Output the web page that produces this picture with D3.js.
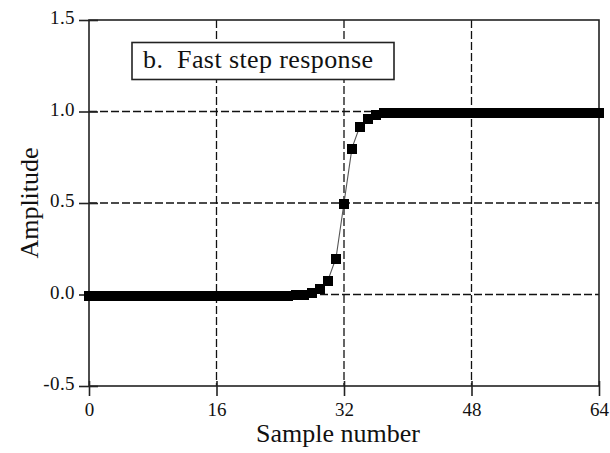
<!DOCTYPE html>
<html>
<head>
<meta charset="utf-8">
<script src="https://cdn.jsdelivr.net/npm/d3@7"></script>
</head>
<body style="margin:0;background:#fff">
<svg id="chart" width="610" height="453" style="display:block"></svg>
<script>
// Fast step response: amplitude per sample index
const samples = d3.range(0, 65);
const amplitude = [
  0, 0, 0, 0, 0, 0, 0, 0, 0, 0,
  0, 0, 0, 0, 0, 0, 0, 0, 0, 0,
  0, 0, 0, 0, 0, 0, 0.002, 0.005, 0.015, 0.035,
  0.08, 0.2, 0.5, 0.8, 0.92, 0.965, 0.985, 0.995, 0.998, 1,
  1, 1, 1, 1, 1, 1, 1, 1, 1, 1,
  1, 1, 1, 1, 1, 1, 1, 1, 1, 1,
  1, 1, 1, 1, 1
];
const xTicks = [0, 16, 32, 48, 64];
const yTicks = [-0.5, 0.0, 0.5, 1.0, 1.5];
const xGrid = [16, 32, 48];
const yGrid = [0.0, 0.5, 1.0];
const title = "b.  Fast step response";

const FONT = "Liberation Serif";
const INK = "#111";
const svg = d3.select("#chart");
const plotL = 89, plotR = 599, plotT = 20, plotB = 386;

const x = d3.scaleLinear().domain([0, 64]).range([plotL, plotR]);
const y = d3.scaleLinear().domain([-0.5, 1.5]).range([plotB, plotT]);

// dashed grid
svg.append("g").selectAll("line").data(xGrid).join("line")
  .attr("x1", d => x(d)).attr("x2", d => x(d))
  .attr("y1", plotT).attr("y2", plotB)
  .attr("stroke", "#111").attr("stroke-width", 1.3)
  .attr("stroke-dasharray", "8,3");
svg.append("g").selectAll("line").data(yGrid).join("line")
  .attr("x1", plotL).attr("x2", plotR)
  .attr("y1", d => y(d)).attr("y2", d => y(d))
  .attr("stroke", "#111").attr("stroke-width", 1.3)
  .attr("stroke-dasharray", "8,3");

// frame
svg.append("rect")
  .attr("x", plotL).attr("y", plotT)
  .attr("width", plotR - plotL).attr("height", plotB - plotT)
  .attr("fill", "none").attr("stroke", "#222").attr("stroke-width", 1.6);

function styleAxis(g) {
  g.select(".domain").remove();
  g.attr("font-family", FONT).attr("font-size", 19);
  g.selectAll("line").attr("stroke", "#222").attr("stroke-width", 1.6);
  g.selectAll("text").attr("fill", INK);
}

// x axis: labelled ticks outside, short ticks inside
const gx = svg.append("g").attr("transform", `translate(0,${plotB})`)
  .call(d3.axisBottom(x).tickValues(xTicks).tickSize(10).tickPadding(7)
    .tickFormat(d3.format("d")));
styleAxis(gx);
const gxi = svg.append("g").attr("transform", `translate(0,${plotB})`)
  .call(d3.axisBottom(x).tickValues(xTicks).tickSize(-5).tickFormat(""));
styleAxis(gxi);

// y axis: ticks cross the frame
const yFmt = d => d.toFixed(1);
const gy = svg.append("g").attr("transform", `translate(${plotL},0)`)
  .call(d3.axisLeft(y).tickValues(yTicks).tickSize(10).tickPadding(4)
    .tickFormat(yFmt));
styleAxis(gy);
gy.selectAll("text").attr("dy", "0.2em").attr("letter-spacing", 0.4);
const gyi = svg.append("g").attr("transform", `translate(${plotL},0)`)
  .call(d3.axisLeft(y).tickValues(yTicks).tickSize(-9).tickFormat(""));
styleAxis(gyi);

// axis titles
svg.append("text")
  .attr("x", 338).attr("y", 442)
  .attr("text-anchor", "middle").attr("font-size", 26)
  .attr("font-family", FONT).attr("fill", INK)
  .text("Sample number");
svg.append("text")
  .attr("transform", `translate(38,${(plotT + plotB) / 2}) rotate(-90)`)
  .attr("text-anchor", "middle").attr("font-size", 26)
  .attr("font-family", FONT).attr("fill", INK)
  .text("Amplitude");

// connecting line
const pts = samples.map((s, i) => [s, amplitude[i]]);
svg.append("path").datum(pts)
  .attr("fill", "none").attr("stroke", "#555").attr("stroke-width", 1.1)
  .attr("d", d3.line().x(d => x(d[0])).y(d => y(d[1])));

// square markers (crisp so neighbouring squares merge into a solid band)
const m = 10;
svg.append("g").attr("shape-rendering", "crispEdges")
  .selectAll("rect").data(pts).join("rect")
  .attr("x", d => x(d[0]) - m / 2).attr("y", d => y(d[1]) - m / 2 + 1)
  .attr("width", m).attr("height", m).attr("fill", "#000");

// title box
const box = svg.append("g");
box.append("rect")
  .attr("x", 132).attr("y", 42.5).attr("width", 262).attr("height", 37)
  .attr("fill", "#fff").attr("stroke", "#222").attr("stroke-width", 1.6);
box.append("text")
  .attr("x", 143).attr("y", 67.5).attr("font-size", 26)
  .attr("font-family", FONT).attr("fill", INK)
  .attr("textLength", 230).attr("lengthAdjust", "spacing")
  .style("white-space", "pre")
  .text(title);
</script>
</body>
</html>
